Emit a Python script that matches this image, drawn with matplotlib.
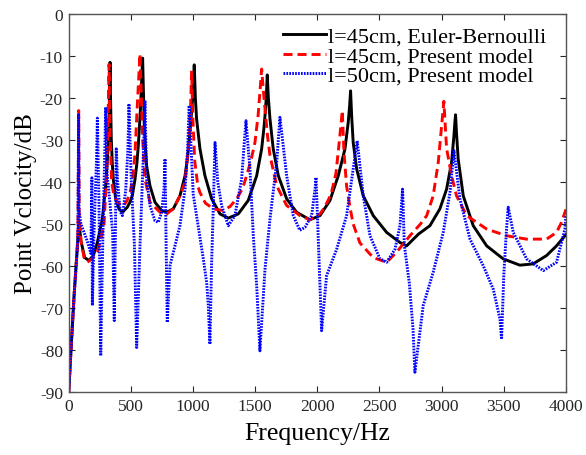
import matplotlib
matplotlib.use("Agg")
import matplotlib.pyplot as plt

plt.rcParams['font.family'] = ['Liberation Serif', 'DejaVu Serif']
plt.rcParams['axes.unicode_minus'] = False
plt.rcParams['lines.scale_dashes'] = False

# ---- data ----
eb_freq = [2, 20, 45, 70, 84, 100, 130, 165, 200, 232, 260, 272, 290, 299, 310, 318, 324, 328, 331, 334,
           338, 344, 352, 360, 379, 406, 433, 473, 494, 513, 535, 550, 561, 572, 580, 588, 596,
           602, 609, 618, 628, 655, 695, 749, 789, 842, 896, 937, 958, 971, 985, 998, 1011,
           1020, 1030, 1057, 1097, 1151, 1218, 1285, 1365, 1445, 1513, 1553, 1570, 1580, 1590, 1598,
           1607, 1620, 1646, 1687, 1754, 1834, 1941, 2022, 2102, 2169, 2223, 2249, 2260, 2268,
           2277, 2289, 2317, 2370, 2450, 2558, 2665, 2719, 2814, 2906, 2986, 3040, 3080, 3099, 3106, 3112,
           3120, 3133, 3174, 3254, 3362, 3495, 3629, 3736, 3844, 3924, 4000]
eb_db = [-90, -80, -67, -56, -49.5, -54, -58, -58.7, -57.5, -54.4, -50.5, -48.8, -43.5, -40.9, -36, -32.1, -27, -21.8, -16, -11.5,
         -20, -29.8, -35.5, -39.3, -44, -46.4, -47.2, -46, -44.8, -43.3, -39.3, -35.5, -31.4, -26, -21.8, -16, -10.5,
         -18, -25.8, -31.5, -36.1, -40.9, -44.8, -46.8, -47.2, -46.4, -43.3, -38.5, -34, -29.8, -25, -20.2, -12.1,
         -20, -25, -32.1, -38.5, -44, -47.6, -48.6, -47.6, -44.4, -38.5, -32.1, -27.5, -24.2, -20, -14.5,
         -20, -25, -32.1, -38.5, -44, -47.2, -49, -48, -44.4, -38.5, -32.1, -25.8, -22, -18.3,
         -24.5, -30.6, -36.9, -43.3, -48, -52, -54.4, -55.2, -52.4, -50.4, -46.4, -41.7, -35.3, -29, -26, -24,
         -28.5, -34.5, -43.3, -50.4, -55.2, -58.3, -59.8, -59.5, -57.5, -55.2, -52.5]

pm45_freq = [2, 20, 45, 70, 76, 82, 86, 100, 125, 151, 190, 232, 259, 285, 307, 320, 326, 333, 347, 366,
             400, 440, 470, 495, 516, 535, 553, 565, 575, 586, 596, 615, 655, 735, 789, 842, 896, 937,
             963, 980, 990, 1000, 1015, 1040, 1057, 1100, 1164, 1244, 1300, 1352, 1400, 1432, 1470, 1499,
             1525, 1539, 1553, 1566, 1580, 1600, 1620, 1674, 1754, 1861, 1941, 2022, 2060, 2110, 2150,
             2175, 2192, 2201, 2215, 2236, 2263, 2289, 2343, 2450, 2558, 2638, 2745, 2830, 2880, 2932,
             2973, 3000, 3018, 3030, 3040, 3080, 3120, 3201, 3362, 3522, 3683, 3844, 3924, 3964, 4000]
pm45_db = [-90, -80, -67, -56, -52, -23, -48, -54, -58, -59.1, -58.3, -56.7, -53.6, -50.4, -37.7, -21.8, -12, -28, -40, -43.3,
           -45, -45.8, -44.5, -42.5, -39.3, -33, -21.8, -15, -9.5, -20, -29.8, -39.3, -44.8, -47.2, -47.6, -46.4, -43.3, -40,
           -32, -24, -13.5, -25, -35, -41, -42.5, -45, -46.4, -46.8, -45.8, -44, -41.5, -38.5, -34.5, -30.6,
           -24, -18.6, -13.1, -18, -22.6, -29, -33.7, -40.9, -45.6, -48, -49, -47.6, -46, -43, -38,
           -31, -26, -23, -33, -41, -46, -50, -54.5, -58, -59.1, -56.7, -52.8, -50, -48, -43.3,
           -35.3, -26.6, -20.8, -27, -32, -38.5, -43.3, -48, -51.2, -52.8, -53.6, -53.6, -52, -49.6, -46.5]

pm50_freq = [2, 20, 45, 70, 76, 81, 85, 100, 150, 180, 188, 192, 205, 225, 232, 245, 259, 275, 290, 299,
             310, 330, 355, 368, 378, 384, 395, 415, 433, 460, 478, 486, 505, 530, 548, 575, 600, 615,
             628, 655, 695, 722, 749, 768, 776, 785, 794, 816, 856, 896, 937, 958, 970,
             1003, 1040, 1084, 1111, 1124, 1137, 1150, 1165, 1178, 1200, 1231, 1285, 1338, 1392, 1415, 1427,
             1445, 1459, 1486, 1513, 1539, 1580, 1620, 1674, 1700, 1754, 1807, 1860, 1901, 1955, 1982, 1990,
             2010, 2035, 2075, 2156, 2236, 2289, 2321, 2370, 2424, 2504, 2558, 2625, 2665, 2686,
             2700, 2740, 2770, 2785, 2852, 2932, 3013, 3067, 3099, 3147, 3228, 3334, 3415, 3469, 3482,
             3500, 3520, 3535, 3576, 3683, 3817, 3924, 3991, 4000]
pm50_db = [-90, -80, -67, -56, -53, -24, -47, -50, -54, -57, -39, -69.4, -52, -35, -24.8, -45, -81.4, -55, -35, -22.2,
           -38, -44, -52, -73, -50, -32.1, -40, -47, -48, -42, -32, -21.4, -40, -55, -79.4, -55, -35, -20.6,
           -39.3, -45.6, -49.2, -49.6, -47.2, -41.7, -34.5, -55, -73.4, -59.9, -55.2, -50.4, -41.7, -32, -21.8,
           -43, -50, -58.3, -64, -69.4, -78.6, -60, -45, -30.6, -40, -45.6, -50.4, -48, -39.3, -30, -25.4,
           -32, -36.9, -52.8, -64.7, -80.2, -60.7, -48.8, -35.3, -24.6, -38.5, -48, -51.5, -50.8, -48, -41.7, -38.9,
           -55, -75.4, -62.3, -56, -48, -36.9, -30.2, -43.3, -52.8, -58.3, -59.1, -56, -50.4, -41.7,
           -55, -64, -75, -85.3, -69.4, -61.5, -52, -42.5, -32.5, -44, -53.6, -59.9, -65.5, -72.6, -77.4,
           -62, -52, -46, -52, -58.3, -61.1, -59.1, -51.2, -48]

labels = ['l=45cm, Euler-Bernoulli', 'l=45cm, Present model', 'l=50cm, Present model']
x_ticks = [0, 500, 1000, 1500, 2000, 2500, 3000, 3500, 4000]
y_ticks = [-90, -80, -70, -60, -50, -40, -30, -20, -10, 0]

# ---- figure ----
fig = plt.figure(figsize=(5.86, 4.56), dpi=100)
ax = fig.add_axes([68.5 / 586, 1 - 393 / 456, (566 - 68.5) / 586, (393 - 15) / 456])

ax.plot(eb_freq, eb_db, color='black', lw=2.1, solid_joinstyle='round', label=labels[0])
ax.plot(pm45_freq, pm45_db, color='#ff0000', lw=2.1, dashes=(6.5, 3.6), label=labels[1])
ax.plot(pm50_freq, pm50_db, color='#0000ff', lw=2.1, dashes=(1.2, 0.9), label=labels[2])

ax.set_xlim(0, 4000)
ax.set_ylim(-90, 0)
ax.set_xticks(x_ticks)
ax.set_yticks(y_ticks)
ax.tick_params(direction='in', top=True, right=True, length=4, width=0.8,
               labelsize=12.5, colors='#262626', pad=4)
for s in ax.spines.values():
    s.set_color('#555555')
    s.set_linewidth(1.0)

ax.set_xlabel('Frequency/Hz', fontsize=18.5, labelpad=6)
ax.set_ylabel('Point Vclocity/dB', fontsize=18, labelpad=2)

leg = ax.legend(loc='upper left', bbox_to_anchor=(280 / 586, 1 - 24 / 456),
                bbox_transform=fig.transFigure, fontsize=16, frameon=True,
                facecolor='white', edgecolor='white', framealpha=1.0, fancybox=False,
                borderpad=0.15, borderaxespad=0, handlelength=1.9, handletextpad=0.1,
                labelspacing=-0.05)
leg.get_frame().set_linewidth(0)

fig.savefig('out.png', dpi=100)
